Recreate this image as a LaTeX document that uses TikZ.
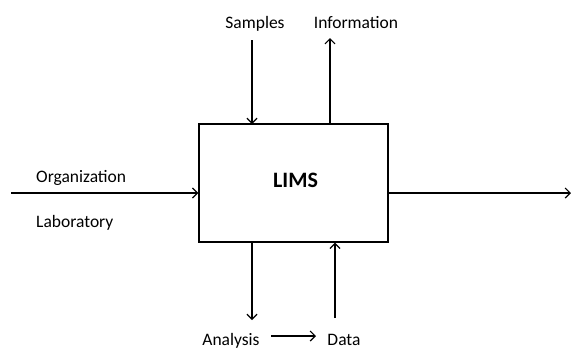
\documentclass[tikz,border=0pt]{standalone}
\usepackage{fontspec}
\setmainfont{Carlito}
\usetikzlibrary{arrows.meta}
\begin{document}
\begin{tikzpicture}[x=1pt,y=-1pt,
  flow/.style={line width=1.4pt,-{Straight Barb[length=5pt,width=10pt,line width=1.2pt]}},
  lbl/.style={font=\fontsize{17.5}{20}\selectfont,inner sep=0pt,anchor=base},
  block/.style={draw,line width=1.4pt,minimum width=189pt,minimum height=118pt,inner sep=0pt}]
  \useasboundingbox (0,0) rectangle (571,349);
  % central system block
  \node[block] (lims) at (293.5,183) {};
  \node[font=\fontsize{22}{24}\selectfont\bfseries,inner sep=0pt,anchor=base] (title) at (295.5,187) {LIMS};
  % top: input and output
  \node[lbl] (samples) at (255,28) {Samples};
  \node[lbl] (info) at (356,28) {Information};
  \coordinate (sIn) at (252,40);
  \coordinate (sEnd) at (252,124);
  \coordinate (iStart) at (330,124);
  \coordinate (iEnd) at (330,38);
  \draw[flow] (sIn) -- (sEnd);
  \draw[flow] (iStart) -- (iEnd);
  % left input with its labels
  \node[lbl,anchor=base west] (org) at (36,182) {Organization};
  \node[lbl,anchor=base west] (lab) at (36,227) {Laboratory};
  \coordinate (lIn) at (11,193);
  \draw[flow] (lIn) -- (lims.west |- lIn);
  % right output
  \coordinate (rOut) at (571,193);
  \draw[flow] (lims.east |- rOut) -- (rOut);
  % bottom loop: analysis and data
  \node[lbl] (analysis) at (231,345) {Analysis};
  \node[lbl] (data) at (344,345) {Data};
  \coordinate (aEnd) at (252,320);
  \coordinate (dStart) at (335,318);
  \draw[flow] (lims.south -| aEnd) -- (aEnd);
  \draw[flow] (dStart) -- (lims.south -| dStart);
  \coordinate (adStart) at (271,336);
  \coordinate (adEnd) at (316,336);
  \draw[flow] (adStart) -- (adEnd);
\end{tikzpicture}
\end{document}
